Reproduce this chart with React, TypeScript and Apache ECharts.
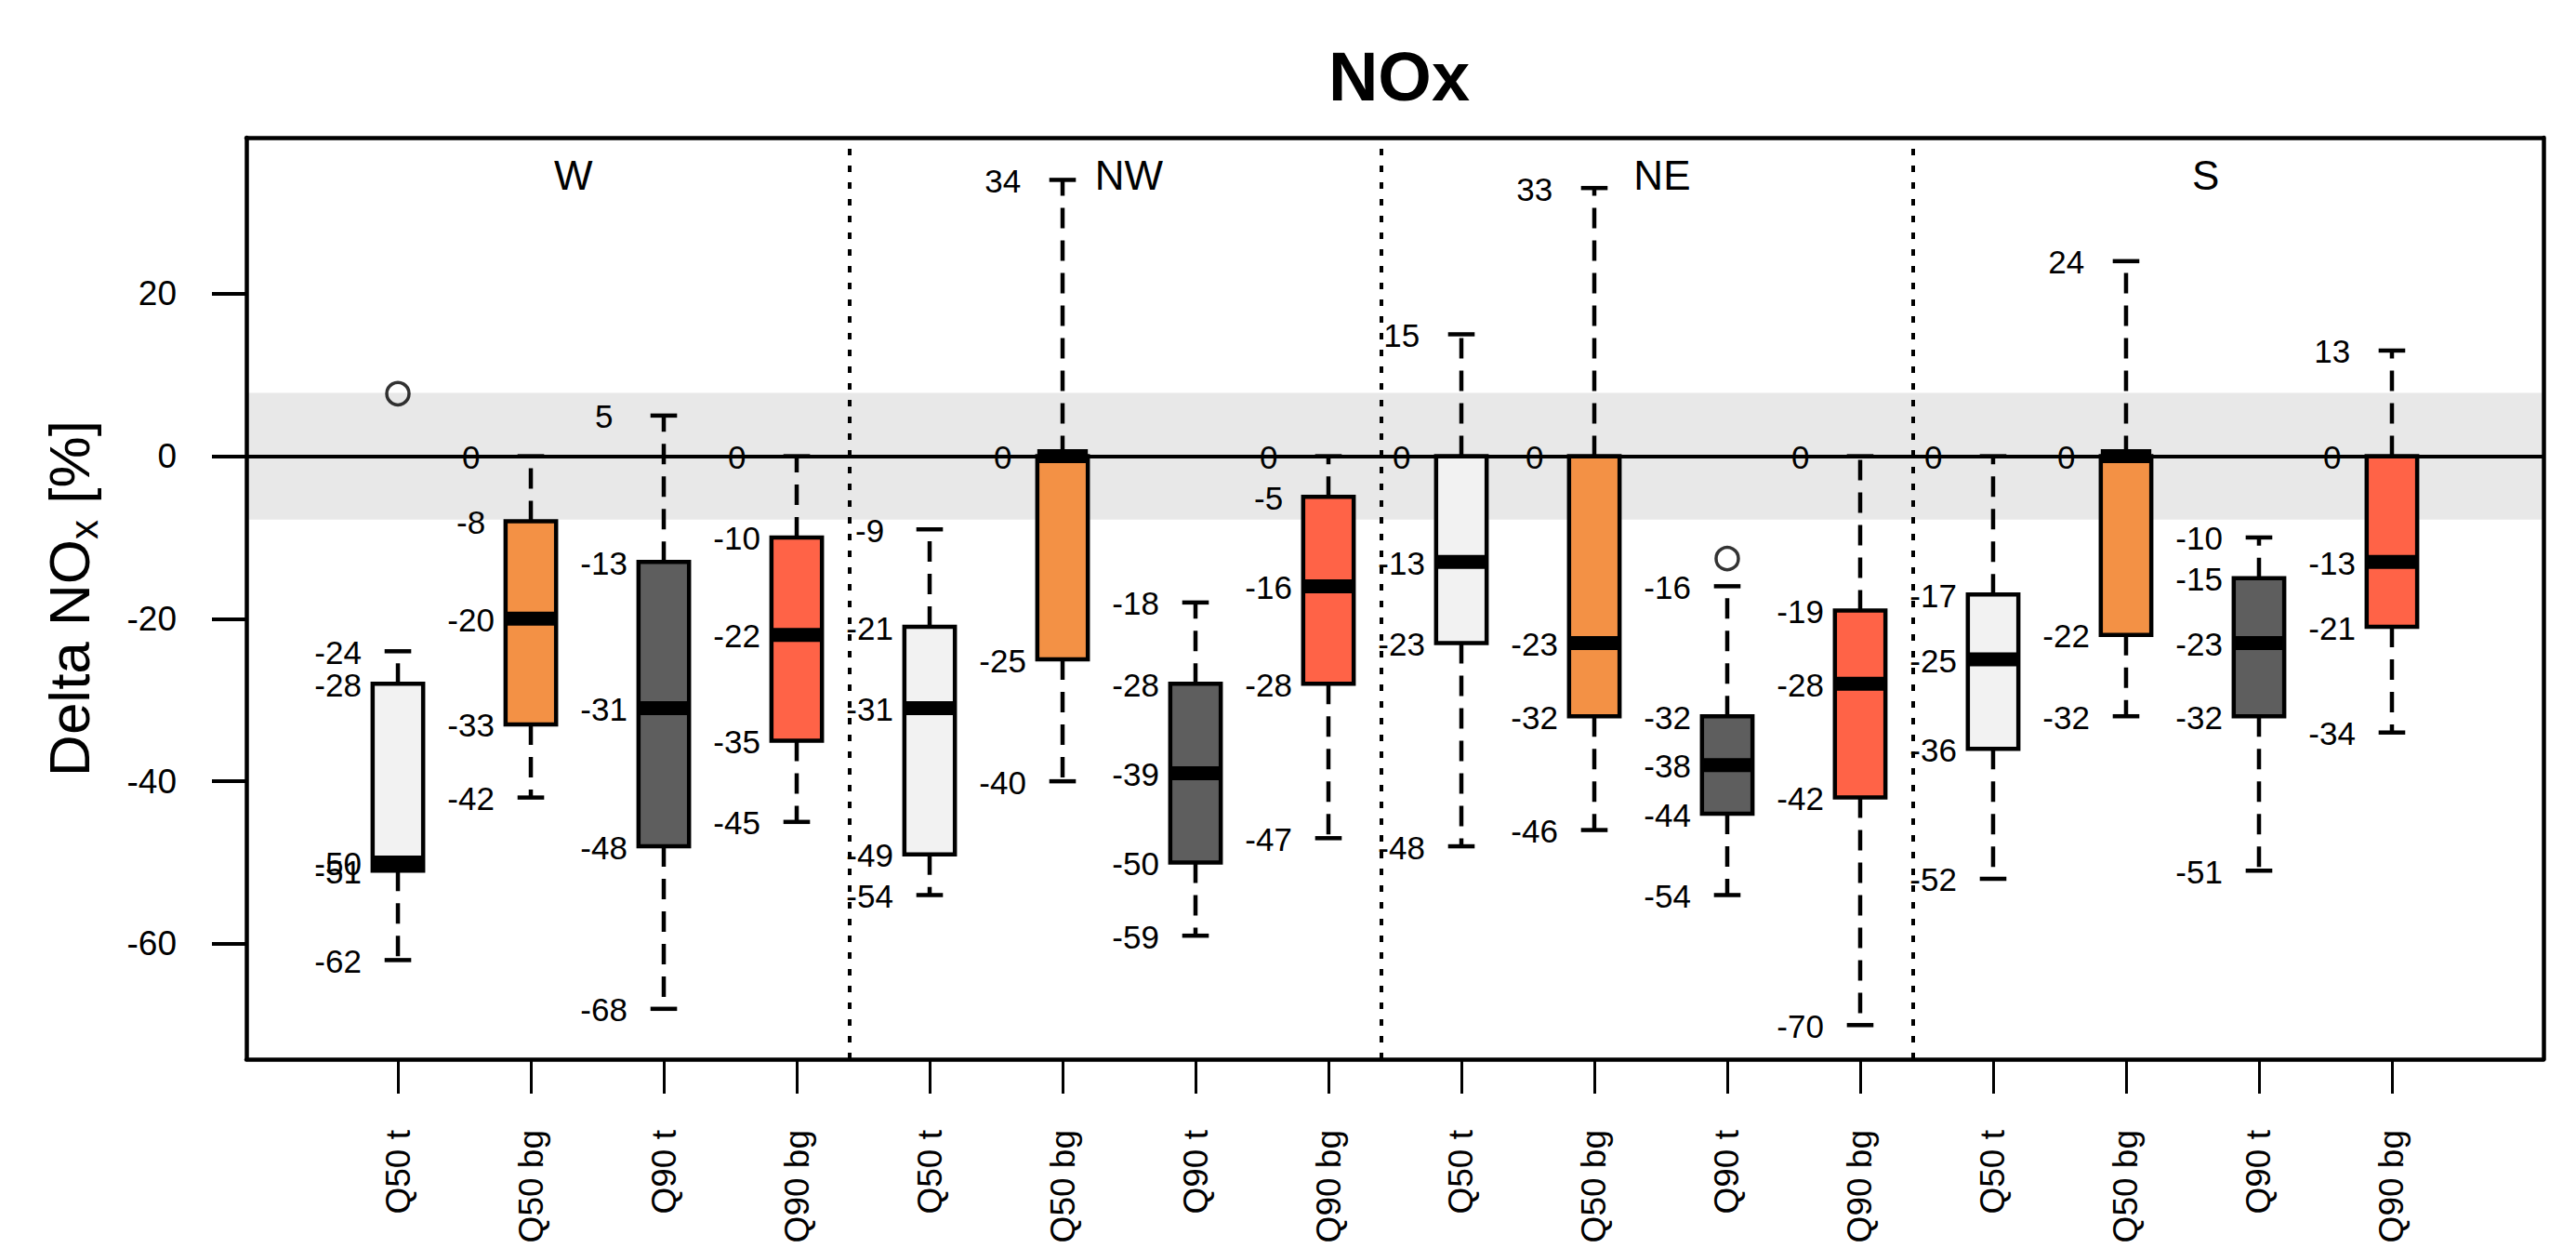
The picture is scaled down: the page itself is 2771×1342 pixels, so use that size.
import React, { useEffect, useRef } from "react";
import * as echarts from "echarts";

// ---------- data ----------
const categories = [
  "Q50 t", "Q50 bg", "Q90 t", "Q90 bg",
  "Q50 t", "Q50 bg", "Q90 t", "Q90 bg",
  "Q50 t", "Q50 bg", "Q90 t", "Q90 bg",
  "Q50 t", "Q50 bg", "Q90 t", "Q90 bg",
];
const sectors = ["W", "NW", "NE", "S"];
const sectorLabelX = [2.32, 6.5, 10.51, 14.6];
const sectorLabelY = 34.6;

const whiskerLow = [-62, -42, -68, -45, -54, -40, -59, -47, -48, -46, -54, -70, -52, -32, -51, -34];
const q1 = [-51, -33, -48, -35, -49, -25, -50, -28, -23, -32, -44, -42, -36, -22, -32, -21];
const median = [-50, -20, -31, -22, -31, 0, -39, -16, -13, -23, -38, -28, -25, 0, -23, -13];
const q3 = [-28, -8, -13, -10, -21, 0, -28, -5, 0, 0, -32, -19, -17, 0, -15, 0];
const whiskerHigh = [-24, 0, 5, 0, -9, 34, -18, 0, 15, 33, -16, 0, 0, 24, -10, 13];

const outliers = [
  [1, 7.7],
  [11, -12.6],
];

const boxColors: Record<string, string> = {
  "Q50 t": "#F2F2F2",
  "Q50 bg": "#F39145",
  "Q90 t": "#5E5E5E",
  "Q90 bg": "#FF6347",
};

const yTicks = [-60, -40, -20, 0, 20];
const xTicks = categories.map((_, i) => i + 1);
const separators = [4.4, 8.4, 12.4];
const band = [-7.8, 7.8];

const yTitleParts = ["Delta NO", "x", " [%]"];

const X_MIN = -0.14;
const X_MAX = 17.14;
const Y_MIN = -74.2;
const Y_MAX = 39.2;

const FONT = "Liberation Sans, Arial, sans-serif";

function measure(text: string, size: number): number {
  const c = document.createElement("canvas");
  const ctx = c.getContext("2d");
  if (!ctx) return text.length * size * 0.55;
  ctx.font = `${size}px "Liberation Sans", Arial, sans-serif`;
  return ctx.measureText(text).width;
}

export default function App() {
  const ref = useRef<HTMLDivElement>(null);

  useEffect(() => {
    if (!ref.current) return;
    const chart = echarts.init(ref.current, undefined, { renderer: "svg" });

    const boxRows = categories.map((_, i) => [
      i + 1, whiskerLow[i], q1[i], median[i], q3[i], whiskerHigh[i], i,
    ]);
    const labelRows: number[][] = [];
    categories.forEach((_, i) => {
      const vals = Array.from(new Set([whiskerHigh[i], q3[i], median[i], q1[i], whiskerLow[i]]));
      vals.forEach((v) => labelRows.push([i + 1, v]));
    });
    const sectorRows = sectors.map((_, i) => [sectorLabelX[i], sectorLabelY, i]);

    const BOX_W = 0.38;
    const CAP_W = 0.2;
    const LABEL_DX = 0.45;
    const LW = 4.5;

    // y-axis title: "Delta NO" + subscript "x" + " [%]" in a rotated group
    const MAIN_FS = 62;
    const SUB_FS = 42;
    const w0 = measure(yTitleParts[0], MAIN_FS);
    const w1 = measure(yTitleParts[1], SUB_FS);
    const w2 = measure(yTitleParts[2], MAIN_FS);
    const total = w0 + w1 + w2;
    const start = -total / 2;
    const textStyle = (text: string, fs: number) => ({
      text,
      fill: "#000",
      fontSize: fs,
      fontFamily: FONT,
      align: "left",
      verticalAlign: "middle",
      textAlign: "left",
      textVerticalAlign: "middle",
    });

    const option: any = {
      animation: false,
      backgroundColor: "#ffffff",
      textStyle: { fontFamily: FONT, color: "#000" },
      title: {
        text: "NOx",
        left: 1500,
        top: 40,
        textAlign: "center",
        textStyle: { fontSize: 74, fontWeight: "bold", fontFamily: FONT, color: "#000" },
      },
      graphic: [
        {
          type: "group",
          x: 74,
          y: 643.5,
          rotation: Math.PI / 2,
          silent: true,
          children: [
            { type: "text", x: start, y: 0, style: textStyle(yTitleParts[0], MAIN_FS) },
            { type: "text", x: start + w0, y: 16, style: textStyle(yTitleParts[1], SUB_FS) },
            { type: "text", x: start + w0 + w1, y: 0, style: textStyle(yTitleParts[2], MAIN_FS) },
          ],
        },
      ],
      grid: { left: 265, right: 35, top: 148, bottom: 203 },
      xAxis: [
        {
          type: "value",
          position: "bottom",
          min: X_MIN,
          max: X_MAX,
          z: 10,
          axisLine: { show: true, onZero: false, lineStyle: { color: "#000", width: LW } },
          axisTick: {
            show: true,
            customValues: xTicks,
            length: 37,
            lineStyle: { color: "#000", width: 3 },
          },
          axisLabel: {
            show: true,
            customValues: xTicks,
            rotate: 90,
            margin: 76,
            fontSize: 37,
            fontFamily: FONT,
            color: "#000",
            formatter: (v: number) => categories[Math.round(v) - 1] ?? "",
          },
          splitLine: { show: false },
        },
        {
          type: "value",
          position: "top",
          min: X_MIN,
          max: X_MAX,
          z: 10,
          axisLine: { show: true, onZero: false, lineStyle: { color: "#000", width: LW } },
          axisTick: { show: false },
          axisLabel: { show: false },
          splitLine: { show: false },
        },
      ],
      yAxis: [
        {
          type: "value",
          position: "left",
          min: Y_MIN,
          max: Y_MAX,
          z: 10,
          axisLine: { show: true, onZero: false, lineStyle: { color: "#000", width: LW } },
          axisTick: {
            show: true,
            customValues: yTicks,
            length: 37,
            lineStyle: { color: "#000", width: 4 },
          },
          axisLabel: {
            show: true,
            customValues: yTicks,
            margin: 75,
            fontSize: 37,
            fontFamily: FONT,
            color: "#000",
          },
          splitLine: { show: false },
        },
        {
          type: "value",
          position: "right",
          min: Y_MIN,
          max: Y_MAX,
          z: 10,
          axisLine: { show: true, onZero: false, lineStyle: { color: "#000", width: LW } },
          axisTick: { show: false },
          axisLabel: { show: false },
          splitLine: { show: false },
        },
      ],
      series: [
        {
          type: "line",
          xAxisIndex: 0,
          yAxisIndex: 0,
          data: [],
          z: 1,
          silent: true,
          markArea: {
            silent: true,
            itemStyle: { color: "#E8E8E8" },
            label: { show: false },
            data: [[{ yAxis: band[0] }, { yAxis: band[1] }]],
          },
          markLine: {
            silent: true,
            symbol: ["none", "none"],
            label: { show: false },
            lineStyle: { color: "#000" },
            data: [
              { yAxis: 0, lineStyle: { type: "solid", width: 4, color: "#000" } },
              ...separators.map((s) => ({
                xAxis: s,
                lineStyle: { type: [7, 11], width: 4, color: "#000" },
              })),
            ],
          },
        },
        {
          type: "custom",
          name: "boxes",
          xAxisIndex: 0,
          yAxisIndex: 0,
          z: 3,
          silent: true,
          data: boxRows,
          encode: { x: 0, y: [1, 2, 3, 4, 5] },
          renderItem: (params: any, api: any) => {
            const x = api.value(0);
            const lo = api.value(1);
            const b1 = api.value(2);
            const md = api.value(3);
            const b3 = api.value(4);
            const hi = api.value(5);
            const idx = api.value(6);
            const color = boxColors[categories[idx]];
            const cx = api.coord([x, 0])[0];
            const yLo = api.coord([x, lo])[1];
            const yB1 = api.coord([x, b1])[1];
            const yMd = api.coord([x, md])[1];
            const yB3 = api.coord([x, b3])[1];
            const yHi = api.coord([x, hi])[1];
            const hb = api.size([BOX_W, 0])[0] / 2;
            const hc = api.size([CAP_W, 0])[0] / 2;
            const children: any[] = [];
            const dash = { stroke: "#000", lineWidth: LW, lineDash: [22, 13], fill: null };
            const solid = { stroke: "#000", lineWidth: LW, fill: null };
            if (hi > b3) {
              children.push({ type: "line", shape: { x1: cx, y1: yB3, x2: cx, y2: yHi }, style: dash });
            }
            if (lo < b1) {
              children.push({ type: "line", shape: { x1: cx, y1: yB1, x2: cx, y2: yLo }, style: dash });
            }
            children.push({ type: "line", shape: { x1: cx - hc, y1: yHi, x2: cx + hc, y2: yHi }, style: solid });
            children.push({ type: "line", shape: { x1: cx - hc, y1: yLo, x2: cx + hc, y2: yLo }, style: solid });
            children.push({
              type: "rect",
              shape: { x: cx - hb, y: yB3, width: 2 * hb, height: yB1 - yB3 },
              style: { fill: color, stroke: "#000", lineWidth: LW },
            });
            children.push({
              type: "line",
              shape: { x1: cx - hb, y1: yMd, x2: cx + hb, y2: yMd },
              style: { stroke: "#000", lineWidth: 15, fill: null },
            });
            return { type: "group", children };
          },
        },
        {
          type: "custom",
          name: "labels",
          xAxisIndex: 0,
          yAxisIndex: 0,
          z: 4,
          silent: true,
          data: labelRows,
          encode: { x: 0, y: 1 },
          renderItem: (params: any, api: any) => {
            const x = api.value(0);
            const v = api.value(1);
            const p = api.coord([x - LABEL_DX, v]);
            return {
              type: "text",
              x: p[0],
              y: p[1] + 1,
              style: {
                text: String(v),
                fill: "#000",
                fontSize: 35,
                fontFamily: FONT,
                align: "center",
                verticalAlign: "middle",
                textAlign: "center",
                textVerticalAlign: "middle",
              },
            };
          },
        },
        {
          type: "custom",
          name: "sectors",
          xAxisIndex: 0,
          yAxisIndex: 0,
          z: 4,
          silent: true,
          data: sectorRows,
          encode: { x: 0, y: 1 },
          renderItem: (params: any, api: any) => {
            const p = api.coord([api.value(0), api.value(1)]);
            return {
              type: "text",
              x: p[0],
              y: p[1],
              style: {
                text: sectors[api.value(2)],
                fill: "#000",
                fontSize: 44,
                fontFamily: FONT,
                align: "center",
                verticalAlign: "middle",
                textAlign: "center",
                textVerticalAlign: "middle",
              },
            };
          },
        },
        {
          type: "scatter",
          name: "outliers",
          xAxisIndex: 0,
          yAxisIndex: 0,
          z: 5,
          silent: true,
          symbol: "circle",
          symbolSize: 24,
          itemStyle: { color: "rgba(0,0,0,0)", borderColor: "#000", borderWidth: 3.5 },
          data: outliers,
        },
      ],
    };

    chart.setOption(option);
    return () => chart.dispose();
  }, []);

  return (
    <div
      ref={ref}
      style={{ position: "absolute", left: 0, top: 0, width: 2771, height: 1342, background: "#fff" }}
    />
  );
}
